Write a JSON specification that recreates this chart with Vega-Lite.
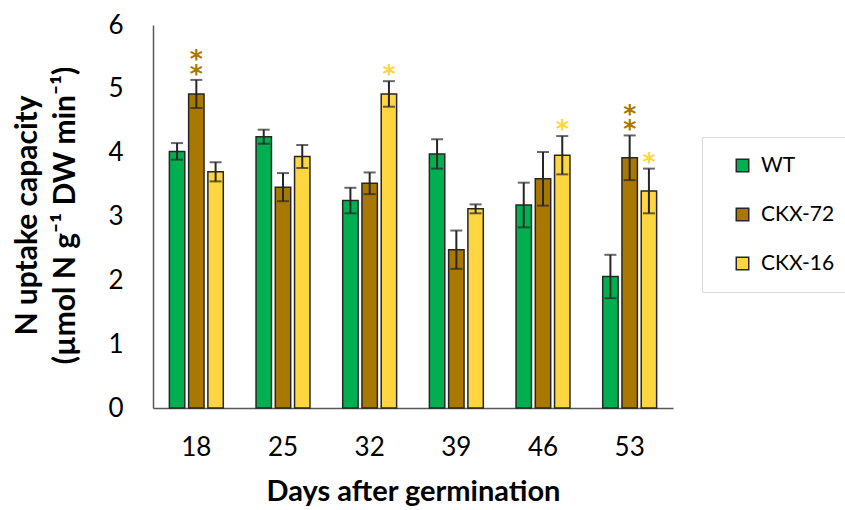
{
  "$schema": "https://vega.github.io/schema/vega-lite/v6.json",
  "autosize": {"type": "none"},
  "padding": {"left": 153, "top": 25, "right": 172, "bottom": 102},
  "width": 520,
  "height": 383,
  "background": "white",
  "config": {
    "font": "Lato",
    "view": {"stroke": null}
  },
  "data": {
    "values": [
      {"day": "18", "line": "WT", "mean": 4.02, "se": 0.13, "sig": ""},
      {"day": "18", "line": "CKX-72", "mean": 4.92, "se": 0.22, "sig": "**"},
      {"day": "18", "line": "CKX-16", "mean": 3.70, "se": 0.15, "sig": ""},
      {"day": "25", "line": "WT", "mean": 4.25, "se": 0.11, "sig": ""},
      {"day": "25", "line": "CKX-72", "mean": 3.46, "se": 0.22, "sig": ""},
      {"day": "25", "line": "CKX-16", "mean": 3.94, "se": 0.18, "sig": ""},
      {"day": "32", "line": "WT", "mean": 3.25, "se": 0.20, "sig": ""},
      {"day": "32", "line": "CKX-72", "mean": 3.52, "se": 0.17, "sig": ""},
      {"day": "32", "line": "CKX-16", "mean": 4.92, "se": 0.20, "sig": "*"},
      {"day": "39", "line": "WT", "mean": 3.98, "se": 0.23, "sig": ""},
      {"day": "39", "line": "CKX-72", "mean": 2.48, "se": 0.30, "sig": ""},
      {"day": "39", "line": "CKX-16", "mean": 3.12, "se": 0.07, "sig": ""},
      {"day": "46", "line": "WT", "mean": 3.18, "se": 0.35, "sig": ""},
      {"day": "46", "line": "CKX-72", "mean": 3.59, "se": 0.42, "sig": ""},
      {"day": "46", "line": "CKX-16", "mean": 3.96, "se": 0.30, "sig": "*"},
      {"day": "53", "line": "WT", "mean": 2.06, "se": 0.34, "sig": ""},
      {"day": "53", "line": "CKX-72", "mean": 3.92, "se": 0.35, "sig": "**"},
      {"day": "53", "line": "CKX-16", "mean": 3.40, "se": 0.35, "sig": "*"}
    ]
  },
  "transform": [
    {"calculate": "datum.mean - datum.se", "as": "lo"},
    {"calculate": "datum.mean + datum.se", "as": "hi"}
  ],
  "encoding": {
    "x": {
      "field": "day",
      "type": "nominal",
      "sort": null,
      "scale": {"paddingInner": 0, "paddingOuter": 0},
      "axis": {
        "title": "Days after germination",
        "titleFont": "Lato",
        "titleFontSize": 29,
        "titleFontWeight": "bold",
        "titleColor": "#000000",
        "titlePadding": 17,
        "labelAngle": 0,
        "labelFont": "Lato",
        "labelFontSize": 26,
        "labelColor": "#000000",
        "labelPadding": 26,
        "ticks": false,
        "domainColor": "#595959",
        "domainWidth": 1.5
      }
    },
    "xOffset": {
      "field": "line",
      "type": "nominal",
      "sort": ["WT", "CKX-72", "CKX-16"],
      "scale": {"paddingInner": 0.2, "paddingOuter": 0.85}
    }
  },
  "layer": [
    {
      "mark": {"type": "bar", "stroke": "#262626", "strokeWidth": 1.5},
      "encoding": {
        "y": {
          "field": "mean",
          "type": "quantitative",
          "scale": {"domain": [0, 6]},
          "axis": {
            "title": ["N uptake capacity", "(µmol N g⁻¹ DW min⁻¹)"],
            "titleFont": "Lato",
            "titleFontSize": 30,
            "titleFontWeight": "bold",
            "titleColor": "#000000",
            "titleLineHeight": 38,
            "titleAngle": -90,
            "titleAlign": "center",
            "titleBaseline": "middle",
            "titleX": -126,
            "titleY": 190,
            "values": [0, 1, 2, 3, 4, 5, 6],
            "format": "d",
            "grid": false,
            "ticks": false,
            "labelFont": "Lato",
            "labelFontSize": 26,
            "labelColor": "#000000",
            "labelPadding": 30,
            "domainColor": "#595959",
            "domainWidth": 1.5
          }
        },
        "color": {
          "field": "line",
          "type": "nominal",
          "sort": ["WT", "CKX-72", "CKX-16"],
          "scale": {
            "domain": ["WT", "CKX-72", "CKX-16"],
            "range": ["#00b050", "#a97800", "#ffd540"]
          },
          "legend": {
            "title": null,
            "orient": "none",
            "legendX": 549,
            "legendY": 112,
            "symbolType": "square",
            "symbolSize": 156,
            "symbolStrokeColor": "#262626",
            "symbolStrokeWidth": 1.5,
            "symbolOffset": 12,
            "labelFont": "Lato",
            "labelFontSize": 21,
            "labelColor": "#000000",
            "labelOffset": 8,
            "rowPadding": 27,
            "padding": 18,
            "strokeColor": "#d9d9d9",
            "fillColor": "white",
            "direction": "vertical"
          }
        }
      }
    },
    {
      "mark": {"type": "rule", "stroke": "#262626", "strokeWidth": 2},
      "encoding": {
        "y": {"field": "lo", "type": "quantitative"},
        "y2": {"field": "hi"}
      }
    },
    {
      "mark": {"type": "tick", "color": "#262626", "thickness": 2, "size": 12},
      "encoding": {
        "y": {"field": "lo", "type": "quantitative"}
      }
    },
    {
      "mark": {"type": "tick", "color": "#262626", "thickness": 2, "size": 12},
      "encoding": {
        "y": {"field": "hi", "type": "quantitative"}
      }
    },
    {
      "transform": [
        {"filter": "datum.sig == '*'"}
      ],
      "mark": {
        "type": "text",
        "baseline": "alphabetic",
        "align": "center",
        "font": "DejaVu Sans",
        "fontSize": 25,
        "fontWeight": "bold",
        "dy": 1
      },
      "encoding": {
        "y": {"field": "hi", "type": "quantitative"},
        "text": {"field": "sig"},
        "color": {
          "field": "line",
          "type": "nominal",
          "scale": {
            "domain": ["WT", "CKX-72", "CKX-16"],
            "range": ["#00b050", "#a97800", "#ffd540"]
          },
          "legend": null
        }
      }
    },
    {
      "transform": [
        {"filter": "datum.sig == '**'"}
      ],
      "mark": {
        "type": "text",
        "baseline": "alphabetic",
        "align": "center",
        "font": "DejaVu Sans",
        "fontSize": 25,
        "fontWeight": "bold",
        "lineHeight": 15,
        "dy": -13
      },
      "encoding": {
        "y": {"field": "hi", "type": "quantitative"},
        "text": {"value": ["*", "*"]},
        "color": {
          "field": "line",
          "type": "nominal",
          "scale": {
            "domain": ["WT", "CKX-72", "CKX-16"],
            "range": ["#00b050", "#a97800", "#ffd540"]
          },
          "legend": null
        }
      }
    }
  ]
}
